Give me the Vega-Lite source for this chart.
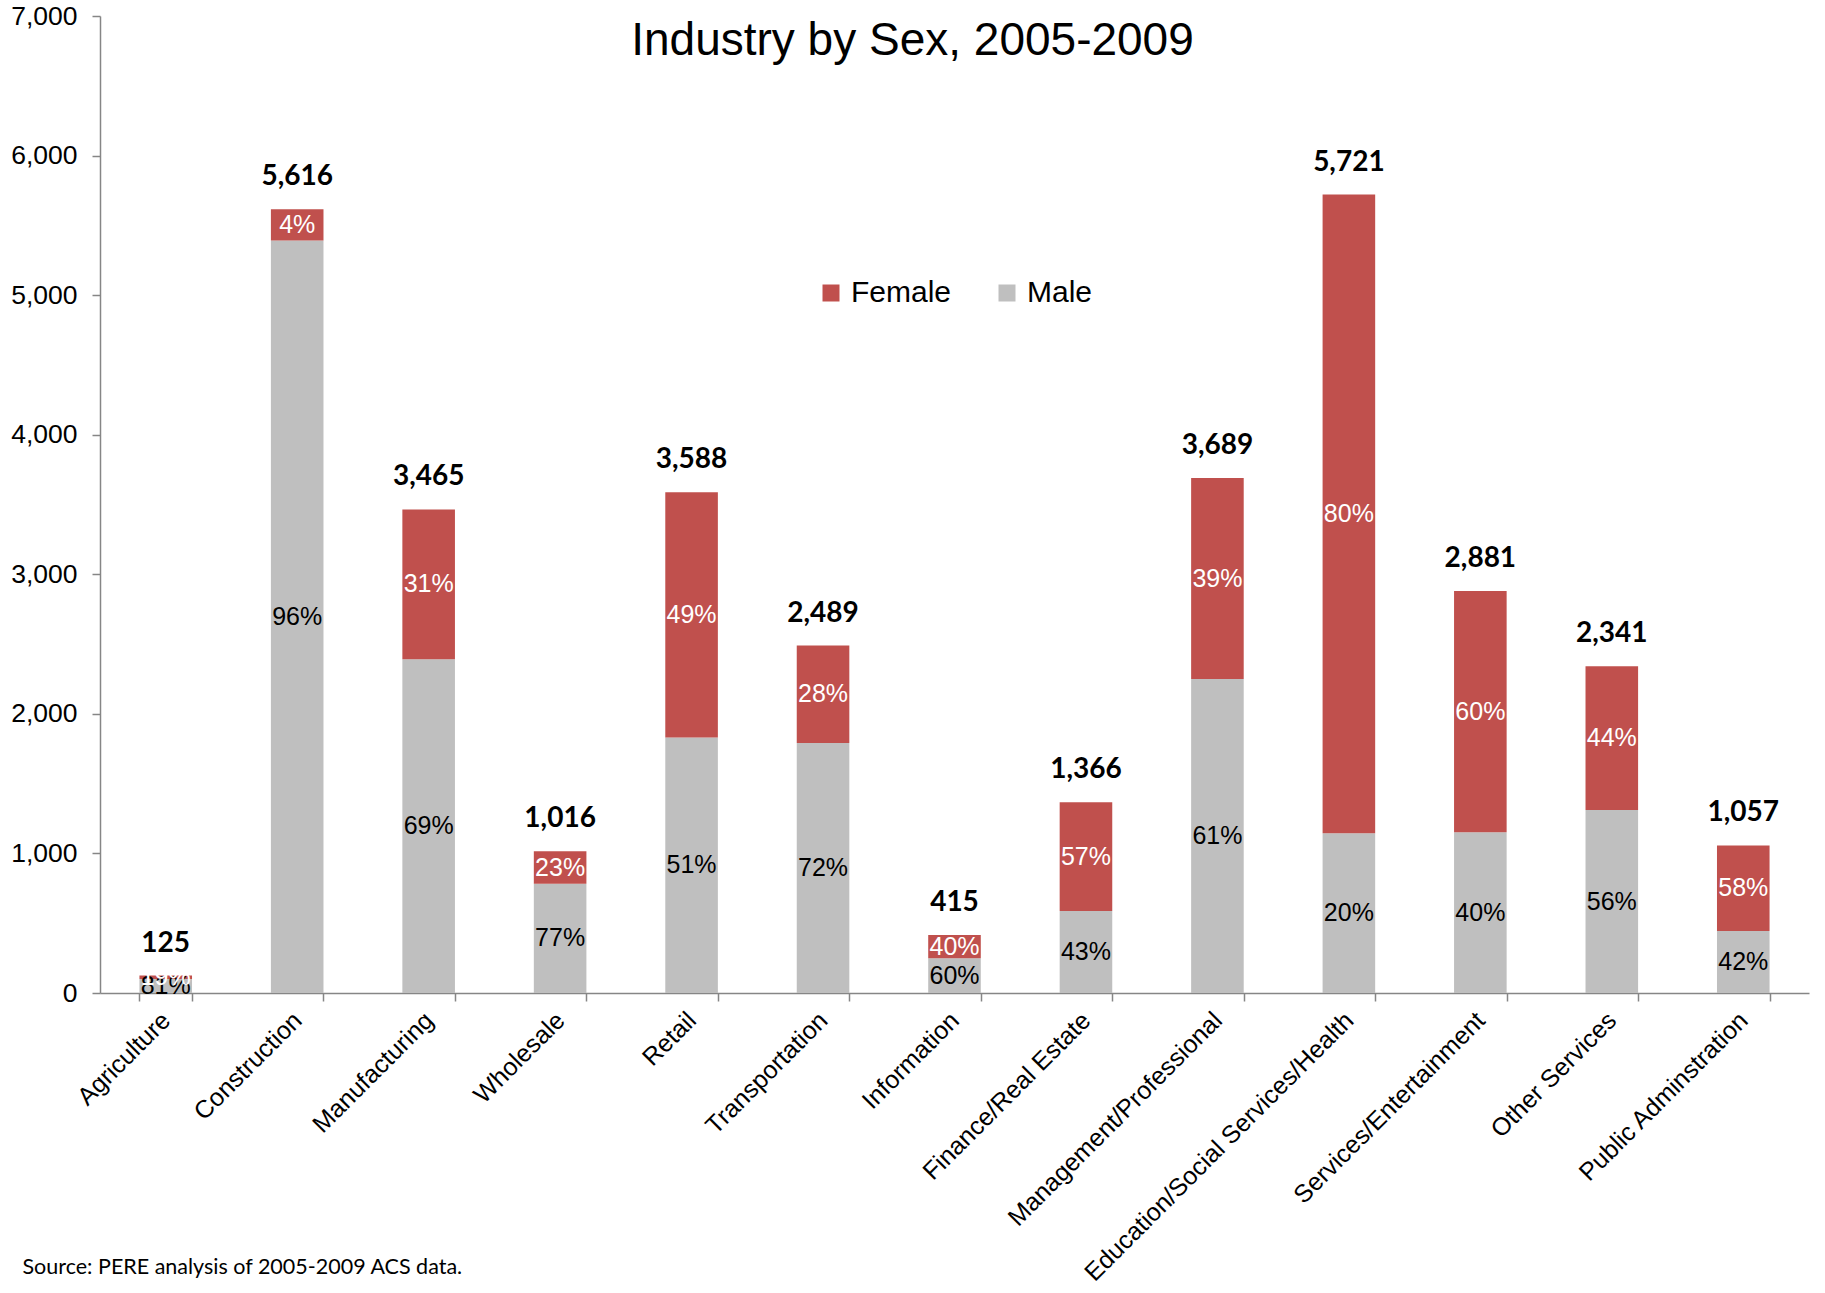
{
  "$schema": "https://vega.github.io/schema/vega-lite/v6.json",
  "width": 1709,
  "height": 977,
  "autosize": {"type": "none"},
  "padding": {"left": 100, "top": 16, "right": 16, "bottom": 300},
  "background": "white",
  "title": {
    "text": "Industry by Sex, 2005-2009",
    "font": "Liberation Sans",
    "fontSize": 46,
    "fontWeight": "normal",
    "color": "black",
    "anchor": "middle",
    "frame": "group",
    "dx": -42,
    "dy": 66
  },
  "config": {
    "view": {"stroke": null},
    "axis": {
      "labelFont": "Liberation Sans",
      "labelColor": "black",
      "domainColor": "#868686",
      "tickColor": "#868686",
      "domainWidth": 1.5,
      "tickWidth": 1.5,
      "tickSize": 8,
      "grid": false
    },
    "axisY": {
      "labelExpr": "format(datum.value, ',')",
      "labelFontSize": 26.5,
      "labelPadding": 15
    }
  },
  "data": {
    "values": [
      {"industry": "Agriculture", "sex": "Male", "value": 101, "pct": 0.81, "total": 125},
      {"industry": "Agriculture", "sex": "Female", "value": 24, "pct": 0.19, "total": 125},
      {"industry": "Construction", "sex": "Male", "value": 5391, "pct": 0.96, "total": 5616},
      {"industry": "Construction", "sex": "Female", "value": 225, "pct": 0.04, "total": 5616},
      {"industry": "Manufacturing", "sex": "Male", "value": 2391, "pct": 0.69, "total": 3465},
      {"industry": "Manufacturing", "sex": "Female", "value": 1074, "pct": 0.31, "total": 3465},
      {"industry": "Wholesale", "sex": "Male", "value": 782, "pct": 0.77, "total": 1016},
      {"industry": "Wholesale", "sex": "Female", "value": 234, "pct": 0.23, "total": 1016},
      {"industry": "Retail", "sex": "Male", "value": 1830, "pct": 0.51, "total": 3588},
      {"industry": "Retail", "sex": "Female", "value": 1758, "pct": 0.49, "total": 3588},
      {"industry": "Transportation", "sex": "Male", "value": 1792, "pct": 0.72, "total": 2489},
      {"industry": "Transportation", "sex": "Female", "value": 697, "pct": 0.28, "total": 2489},
      {"industry": "Information", "sex": "Male", "value": 249, "pct": 0.60, "total": 415},
      {"industry": "Information", "sex": "Female", "value": 166, "pct": 0.40, "total": 415},
      {"industry": "Finance/Real Estate", "sex": "Male", "value": 587, "pct": 0.43, "total": 1366},
      {"industry": "Finance/Real Estate", "sex": "Female", "value": 779, "pct": 0.57, "total": 1366},
      {"industry": "Management/Professional", "sex": "Male", "value": 2250, "pct": 0.61, "total": 3689},
      {"industry": "Management/Professional", "sex": "Female", "value": 1439, "pct": 0.39, "total": 3689},
      {"industry": "Education/Social Services/Health", "sex": "Male", "value": 1144, "pct": 0.20, "total": 5721},
      {"industry": "Education/Social Services/Health", "sex": "Female", "value": 4577, "pct": 0.80, "total": 5721},
      {"industry": "Services/Entertainment", "sex": "Male", "value": 1152, "pct": 0.40, "total": 2881},
      {"industry": "Services/Entertainment", "sex": "Female", "value": 1729, "pct": 0.60, "total": 2881},
      {"industry": "Other Services", "sex": "Male", "value": 1311, "pct": 0.56, "total": 2341},
      {"industry": "Other Services", "sex": "Female", "value": 1030, "pct": 0.44, "total": 2341},
      {"industry": "Public Adminstration", "sex": "Male", "value": 444, "pct": 0.42, "total": 1057},
      {"industry": "Public Adminstration", "sex": "Female", "value": 613, "pct": 0.58, "total": 1057}
    ]
  },
  "transform": [
    {"stack": "value", "groupby": ["industry"], "sort": [{"field": "sex", "order": "descending"}], "as": ["y0", "y1"]},
    {"calculate": "(datum.y0 + datum.y1) / 2", "as": "mid"}
  ],
  "encoding": {
    "x": {
      "field": "industry",
      "type": "nominal",
      "sort": null,
      "scale": {"paddingInner": 0.6, "paddingOuter": 0.3},
      "title": "Source: PERE analysis of 2005-2009 ACS data.",
      "axis": {
        "labelAngle": -45,
        "labelFontSize": 25,
        "labelPadding": 15,
        "labelBaseline": "middle",
        "labelAlign": "right",
        "labelLimit": 0,
        "tickBand": "extent",
        "titleFont": "Lato",
        "titleFontSize": 21.5,
        "titleFontWeight": "normal",
        "titleColor": "black",
        "titleAlign": "left",
        "titleAnchor": "start",
        "titleBaseline": "alphabetic",
        "titleX": -78,
        "titleY": 280
      }
    }
  },
  "layer": [
    {
      "mark": {"type": "bar"},
      "encoding": {
        "y": {
          "field": "y0",
          "type": "quantitative",
          "title": null,
          "scale": {"domain": [0, 7000], "nice": false},
          "axis": {
            "values": [0, 1000, 2000, 3000, 4000, 5000, 6000, 7000]
          }
        },
        "y2": {"field": "y1"},
        "color": {
          "field": "sex",
          "type": "nominal",
          "scale": {"domain": ["Female", "Male"], "range": ["#C0504D", "#BFBFBF"]},
          "legend": {
            "orient": "none",
            "legendX": 716,
            "legendY": 262,
            "direction": "horizontal",
            "title": null,
            "symbolType": "square",
            "symbolSize": 289,
            "symbolStrokeWidth": 0,
            "labelFont": "Liberation Sans",
            "labelFontSize": 30,
            "labelColor": "black",
            "labelOffset": 5,
            "columnPadding": 40
          }
        }
      }
    },
    {
      "mark": {"type": "text", "font": "Liberation Sans", "fontSize": 25, "baseline": "middle", "align": "center"},
      "encoding": {
        "y": {"field": "mid", "type": "quantitative", "title": null},
        "text": {"field": "pct", "type": "quantitative", "format": ".0%"},
        "color": {"condition": {"test": "datum.sex === 'Female'", "value": "white"}, "value": "black"}
      }
    },
    {
      "transform": [{"filter": "datum.sex === 'Female'"}],
      "mark": {"type": "text", "font": "Lato", "fontWeight": "bold", "fontSize": 28, "baseline": "alphabetic", "align": "center", "dy": -24, "color": "black"},
      "encoding": {
        "y": {"field": "total", "type": "quantitative", "title": null},
        "text": {"field": "total", "type": "quantitative", "format": ","}
      }
    }
  ]
}
